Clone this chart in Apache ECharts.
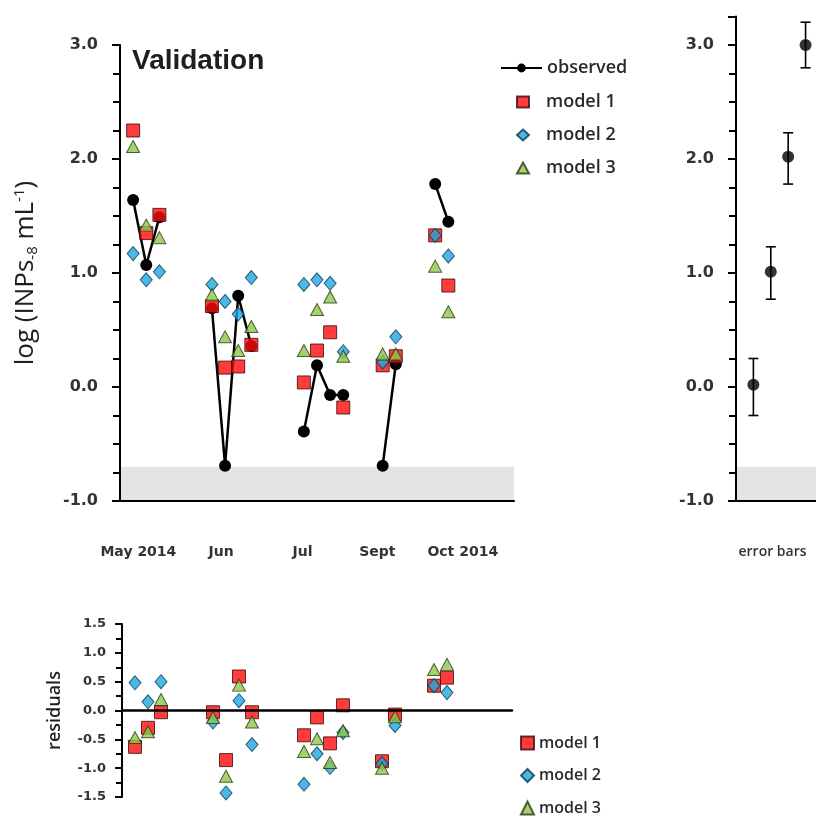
<!DOCTYPE html>
<html><head><meta charset="utf-8">
<script src="https://cdn.jsdelivr.net/npm/echarts@6/dist/echarts.min.js"></script>
<style>html,body{margin:0;padding:0;background:#fff}#c{width:816px;height:819px}</style>
</head><body><div id="c"></div>
<script>
// ---- data ----
const sampleX     = [1,2,3, 7,8,9,10, 14,15,16,17, 20,21, 24,25];
const sampleGroup = [0,0,0, 1,1,1,1, 2,2,2,2, 3,3, 4,4];
const observed = [1.64,1.07,1.49, 0.69,-0.69,0.80,0.36, -0.39,0.19,-0.07,-0.07, -0.69,0.20, 1.78,1.45];
const model1   = [2.25,1.35,1.51, 0.71,0.17,0.18,0.37, 0.04,0.32,0.48,-0.18, 0.19,0.27, 1.33,0.89];
const model2   = [1.17,0.94,1.01, 0.90,0.75,0.64,0.96, 0.90,0.94,0.91,0.31, 0.22,0.44, 1.33,1.15];
const model3   = [2.11,1.42,1.31, 0.81,0.44,0.32,0.53, 0.32,0.68,0.79,0.27, 0.29,0.29, 1.06,0.66];
const resid1   = [-0.63,-0.30,-0.03, -0.03,-0.86,0.59,-0.03, -0.43,-0.12,-0.57,0.09, -0.88,-0.07, 0.43,0.57];
const resid2   = [0.48,0.15,0.50, -0.20,-1.43,0.17,-0.59, -1.28,-0.75,-0.99,-0.38, -0.92,-0.26, 0.43,0.31];
const resid3   = [-0.47,-0.37,0.19, -0.12,-1.14,0.44,-0.20, -0.71,-0.49,-0.90,-0.35, -1.00,-0.11, 0.71,0.80];
const monthTickPos = [1.4, 7.7, 13.9, 19.6, 26.1];
const monthLabels  = ['May 2014','Jun','Jul','Sept','Oct 2014'];
const ebX    = [1,2,3,4];
const ebY    = [0.02,1.01,2.02,3.00];
const ebLow  = [-0.25,0.77,1.78,2.80];
const ebHigh = [0.25,1.23,2.23,3.20];
const detectionBand = [-1.0,-0.7];
const yTicksMain = {min:-1, max:3, interval:1};
const yTicksRes  = {min:-1.5, max:1.5, interval:0.5};

// ---- build ----
const obsData = [];
sampleX.forEach((x,i)=>{
  if(i>0 && sampleGroup[i]!==sampleGroup[i-1]) obsData.push([x-0.5,'-']);
  obsData.push([x, observed[i]]);
});
const pts = arr => sampleX.map((x,i)=>[x, arr[i]]);

const numFont = 'DejaVu Sans';
const txtFont = 'Open Sans';
const labCol = '#333';
const styleM1 = {color:'#ff0a0a', borderColor:'#3a0a0a', borderWidth:1};
const styleM2 = {color:'#1ea6e0', borderColor:'#0a3a55', borderWidth:1};
const styleM3 = {color:'#8cc84b', borderColor:'#2a3a10', borderWidth:1};

function yAxisCommon(extra){
  return Object.assign({
    type:'value',
    axisLine:{show:true, onZero:false, lineStyle:{color:'#000', width:2}},
    axisTick:{show:true, length:8, lineStyle:{color:'#000', width:2}},
    minorTick:{show:true, splitNumber:4, length:7, lineStyle:{color:'#000', width:2}},
    splitLine:{show:false},
    axisLabel:{margin:22, color:labCol, fontFamily:numFont, fontWeight:'bold', fontSize:16,
      showMaxLabel:true, formatter:v=>v.toFixed(1)},
    z:10
  }, extra);
}
const legendText = (size, lh, pad) => ({fontFamily:txtFont, fontWeight:600, fontSize:size, lineHeight:lh, color:'#2a2a2a', padding:pad});

const option = {
  animation:false,
  backgroundColor:'#fff',
  title:{text:'Validation', left:132, top:47, padding:0,
    textStyle:{fontFamily:'Liberation Sans', fontWeight:'bold', fontSize:28, color:'#1e1e1e'}},
  legend:[
    {data:['observed'], orient:'vertical', left:500, top:58, padding:0,
     itemWidth:41, itemHeight:11, selectedMode:false, textStyle:legendText(18,20,[0,0,0,0])},
    {data:['model 1','model 2','model 3'], orient:'vertical', left:516, top:92, padding:0, height:120,
     itemWidth:12, itemHeight:11, itemGap:13, selectedMode:false, textStyle:legendText(18,20,[0,0,0,12])},
    {data:['model 1','model 2','model 3'], orient:'vertical', left:520, top:734, padding:0, height:90,
     itemWidth:13, itemHeight:13, itemGap:14.5, selectedMode:false, textStyle:legendText(16,18,[0,0,0,0])}
  ],
  grid:[
    {left:120, top:45, width:394, height:456},
    {left:736, top:16.5, width:80, height:484.5},
    {left:122, top:624, width:390, height:173}
  ],
  xAxis:[
    {gridIndex:0, type:'value', min:0, max:30,
     axisLine:{onZero:false, lineStyle:{color:'#000', width:2}}, axisTick:{show:false}, splitLine:{show:false},
     axisLabel:{customValues:monthTickPos, margin:44, color:labCol, fontFamily:numFont, fontWeight:'bold', fontSize:14,
       formatter:v=>{const k=monthTickPos.indexOf(v); return k>=0?monthLabels[k]:'';}}, z:10},
    {gridIndex:1, type:'value', min:0, max:4.6,
     axisLine:{onZero:false, lineStyle:{color:'#000', width:2}}, axisTick:{show:false}, splitLine:{show:false},
     axisLabel:{customValues:[2.1], margin:44, color:labCol, fontFamily:txtFont, fontWeight:600, fontSize:14,
       formatter:()=> 'error bars'}, z:10},
    {gridIndex:2, type:'value', min:0, max:30,
     axisLine:{onZero:true, lineStyle:{color:'#000', width:2.5}}, axisTick:{show:false}, axisLabel:{show:false}, splitLine:{show:false}, z:10}
  ],
  yAxis:[
    yAxisCommon({gridIndex:0, min:yTicksMain.min, max:yTicksMain.max, interval:yTicksMain.interval,
      name:'log (INPs{sub|-8} mL{sup|-1})', nameLocation:'middle', nameGap:80, nameRotate:90,
      nameTextStyle:{fontFamily:txtFont, fontSize:26, color:'#1e1e1e',
        rich:{sub:{fontFamily:txtFont, fontSize:15, color:'#1e1e1e', verticalAlign:'bottom', padding:[13,0,0,0]},
              sup:{fontFamily:txtFont, fontSize:15, color:'#1e1e1e', verticalAlign:'top', padding:[0,0,11,0]}}}}),
    yAxisCommon({gridIndex:1, min:-1, max:3.25, interval:1,
      axisLabel:{margin:22, color:labCol, fontFamily:numFont, fontWeight:'bold', fontSize:16,
        showMaxLabel:false, formatter:v=>v.toFixed(1)}}),
    yAxisCommon({gridIndex:2, min:yTicksRes.min, max:yTicksRes.max, interval:yTicksRes.interval,
      axisTick:{show:true, length:7, lineStyle:{color:'#000', width:2}},
      minorTick:{show:true, splitNumber:2, length:6, lineStyle:{color:'#000', width:2}},
      axisLabel:{margin:16, color:labCol, fontFamily:numFont, fontWeight:'bold', fontSize:13, formatter:v=>v.toFixed(1)},
      name:'residuals', nameLocation:'middle', nameGap:58, nameRotate:90,
      nameTextStyle:{fontFamily:txtFont, fontWeight:600, fontSize:18, color:'#1e1e1e'}})
  ],
  series:[
    {name:'observed', type:'line', xAxisIndex:0, yAxisIndex:0, data:obsData, connectNulls:false,
     symbol:'circle', symbolSize:12, itemStyle:{color:'#000'}, lineStyle:{color:'#000', width:2.5}, z:2},
    {name:'bandMain', type:'line', xAxisIndex:0, yAxisIndex:0, data:[], z:3, silent:true,
     markArea:{silent:true, itemStyle:{color:'rgba(205,205,205,0.55)'}, data:[[{yAxis:detectionBand[0]},{yAxis:detectionBand[1]}]]}},
    {name:'model 1', type:'scatter', xAxisIndex:0, yAxisIndex:0, data:pts(model1), symbol:'rect', symbolSize:13, itemStyle:styleM1, z:4},
    {name:'model 2', type:'scatter', xAxisIndex:0, yAxisIndex:0, data:pts(model2), symbol:'diamond', symbolSize:[12,14], itemStyle:styleM2, z:5},
    {name:'model 3', type:'scatter', xAxisIndex:0, yAxisIndex:0, data:pts(model3), symbol:'triangle', symbolSize:[13,12], itemStyle:styleM3, z:6},
    {name:'bandRight', type:'line', xAxisIndex:1, yAxisIndex:1, data:[], z:3, silent:true,
     markArea:{silent:true, itemStyle:{color:'rgba(205,205,205,0.55)'}, data:[[{yAxis:detectionBand[0]},{yAxis:detectionBand[1]}]]}},
    {name:'errbar', type:'custom', xAxisIndex:1, yAxisIndex:1, data:ebX.map((x,i)=>[x, ebLow[i], ebHigh[i]]),
     encode:{x:0, y:[1,2]}, z:4,
     renderItem:(params, api)=>{
       const x=api.value(0), lo=api.coord([x, api.value(1)]), hi=api.coord([x, api.value(2)]);
       const c=5, st={stroke:'#000', lineWidth:1.6};
       return {type:'group', children:[
         {type:'line', shape:{x1:lo[0],y1:lo[1],x2:hi[0],y2:hi[1]}, style:st},
         {type:'line', shape:{x1:lo[0]-c,y1:lo[1],x2:lo[0]+c,y2:lo[1]}, style:st},
         {type:'line', shape:{x1:hi[0]-c,y1:hi[1],x2:hi[0]+c,y2:hi[1]}, style:st}
       ]};
     }},
    {name:'errpt', type:'scatter', xAxisIndex:1, yAxisIndex:1, data:ebX.map((x,i)=>[x, ebY[i]]),
     symbol:'circle', symbolSize:12, itemStyle:{color:'#000'}, z:5},
    {name:'model 1', type:'scatter', xAxisIndex:2, yAxisIndex:2, data:pts(resid1), symbol:'rect', symbolSize:13, itemStyle:styleM1, z:4},
    {name:'model 2', type:'scatter', xAxisIndex:2, yAxisIndex:2, data:pts(resid2), symbol:'diamond', symbolSize:[12,14], itemStyle:styleM2, z:5},
    {name:'model 3', type:'scatter', xAxisIndex:2, yAxisIndex:2, data:pts(resid3), symbol:'triangle', symbolSize:[13,12], itemStyle:styleM3, z:6}
  ]
};
const chart = echarts.init(document.getElementById('c'), null, {renderer:'canvas'});
chart.setOption(option);
</script>
</body></html>
